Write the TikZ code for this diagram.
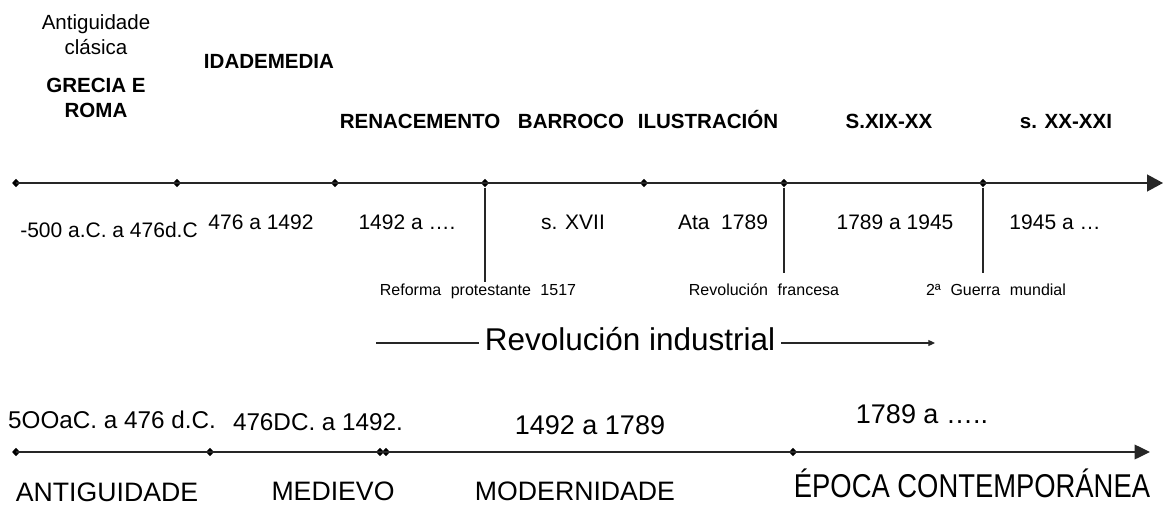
\documentclass[tikz,border=0pt]{standalone}
\usepackage{fontspec}
\setmainfont{Liberation Sans}
\newfontfamily\narrowsans[FakeStretch=0.83]{Liberation Sans}
\usetikzlibrary{shapes.geometric,arrows.meta}
\newcommand\wgap{\hspace{0.6em}}

\begin{document}
\begin{tikzpicture}[x=0.75pt,y=-0.75pt,
    knot/.style={diamond,fill=black,inner sep=0pt,minimum width=6pt,minimum height=6.5pt},
    timeline/.style={line width=1pt,draw=black!85},
    era/.style={font=\fontsize{15.4}{18.75}\selectfont\bfseries,anchor=base},
    period/.style={font=\fontsize{15.75}{18.75}\selectfont,anchor=base},
    event/.style={font=\fontsize{12}{14}\selectfont,anchor=base},
    age/.style={font=\fontsize{20}{24}\selectfont,anchor=base,inner sep=0pt},
    span/.style={font=\fontsize{18.2}{22}\selectfont,anchor=base}]
  \useasboundingbox (0,0) rectangle (1167,506);

  % upper line
  \node[knot] (t1) at (16,183) {};
  \node[knot] (t2) at (177,183) {};
  \node[knot] (t3) at (335,183) {};
  \node[knot] (t4) at (485,183) {};
  \node[knot] (t5) at (644,183) {};
  \node[knot] (t6) at (784,183) {};
  \node[knot] (t7) at (983,183) {};
  \coordinate (tend) at (1163,183);
  \draw[timeline,-{Triangle[length=12pt,width=12.75pt]}] (t1.center) -- (tend);

  \coordinate (d4) at (485,282);
  \coordinate (d6) at (784,273);
  \coordinate (d7) at (983,273);
  \draw[timeline] (t4) -- (d4);
  \draw[timeline] (t6) -- (d6);
  \draw[timeline] (t7) -- (d7);

  \node[font=\fontsize{15.4}{18.75}\selectfont,align=center,anchor=north,inner sep=0pt]
    (classic) at (96,14) {Antiguidade\\clásica};
  \node[font=\fontsize{15.4}{18.75}\selectfont\bfseries,align=center,anchor=north,inner sep=0pt]
    (greco) at (96,78) {GRECIA E\\ROMA};
  \node[era] (medieval) at (269,69) {IDADEMEDIA};
  \node[era] (renac) at (420,129) {RENACEMENTO};
  \node[era] (barroco) at (571,129) {BARROCO};
  \node[era] (ilustr) at (708,129) {ILUSTRACIÓN};
  \node[era] (s19) at (889,129) {S.XIX-XX};
  \node[era] (s20) at (1066,129) {s. XX-XXI};

  \node[period] (p1) at (109,237) {-500 a.C. a 476d.C};
  \node[period] (p2) at (261,229) {476 a 1492};
  \node[period] (p3) at (407,229) {1492 a ….};
  \node[period] (p4) at (573,229) {s. XVII};
  \node[period] (p5) at (723,229) {Ata\ \ 1789};
  \node[period] (p6) at (895,229) {1789 a 1945};
  \node[period] (p7) at (1055,229) {1945 a …};

  \node[event] (reforma) at (478,295) {Reforma\wgap protestante\wgap 1517};
  \node[event] (francesa) at (764,295) {Revolución\wgap francesa};
  \node[event] (guerra) at (996,295) {2ª\wgap Guerra\wgap mundial};

  \node[font=\fontsize{23.6}{28}\selectfont,anchor=base,inner sep=4.5pt] (indus) at (630,350) {Revolución industrial};
  \coordinate (indL) at (376,343);
  \coordinate (indR) at (935,343);
  \draw[line width=0.8pt,draw=black!85] (indL) -- (indL -| indus.west);
  \draw[line width=0.8pt,draw=black!85,-{Triangle[length=5pt,width=4.5pt]}] (indus.east |- indR) -- (indR);

  % lower line
  \node[knot] (b1) at (16,452) {};
  \node[knot] (b2) at (210,452) {};
  \node[knot] (b3) at (380,452) {};
  \node[knot] (b4) at (386,452) {};
  \node[knot] (b5) at (793,452) {};
  \coordinate (bend) at (1150,452);
  \draw[timeline,-{Triangle[length=11.5pt,width=11pt]}] (b1.center) -- (bend);

  \node[span] (q1) at (112,428) {5OOaC. a 476 d.C.};
  \node[span] (q2) at (318,430) {476DC. a 1492.};
  \node[font=\fontsize{20.25}{24}\selectfont,anchor=base] (q3) at (590,434) {1492 a 1789};
  \node[font=\fontsize{20.25}{24}\selectfont,anchor=base] (q4) at (922,423) {1789 a …..};

  \node[age] (antig) at (107,501) {ANTIGUIDADE};
  \node[age] (medievo) at (333,500) {MEDIEVO};
  \node[age] (moderna) at (575,500) {MODERNIDADE};
  \node[font=\fontsize{24.75}{28}\selectfont\narrowsans,anchor=base] (contemp) at (972,497) {ÉPOCA CONTEMPORÁNEA};
\end{tikzpicture}
\end{document}
